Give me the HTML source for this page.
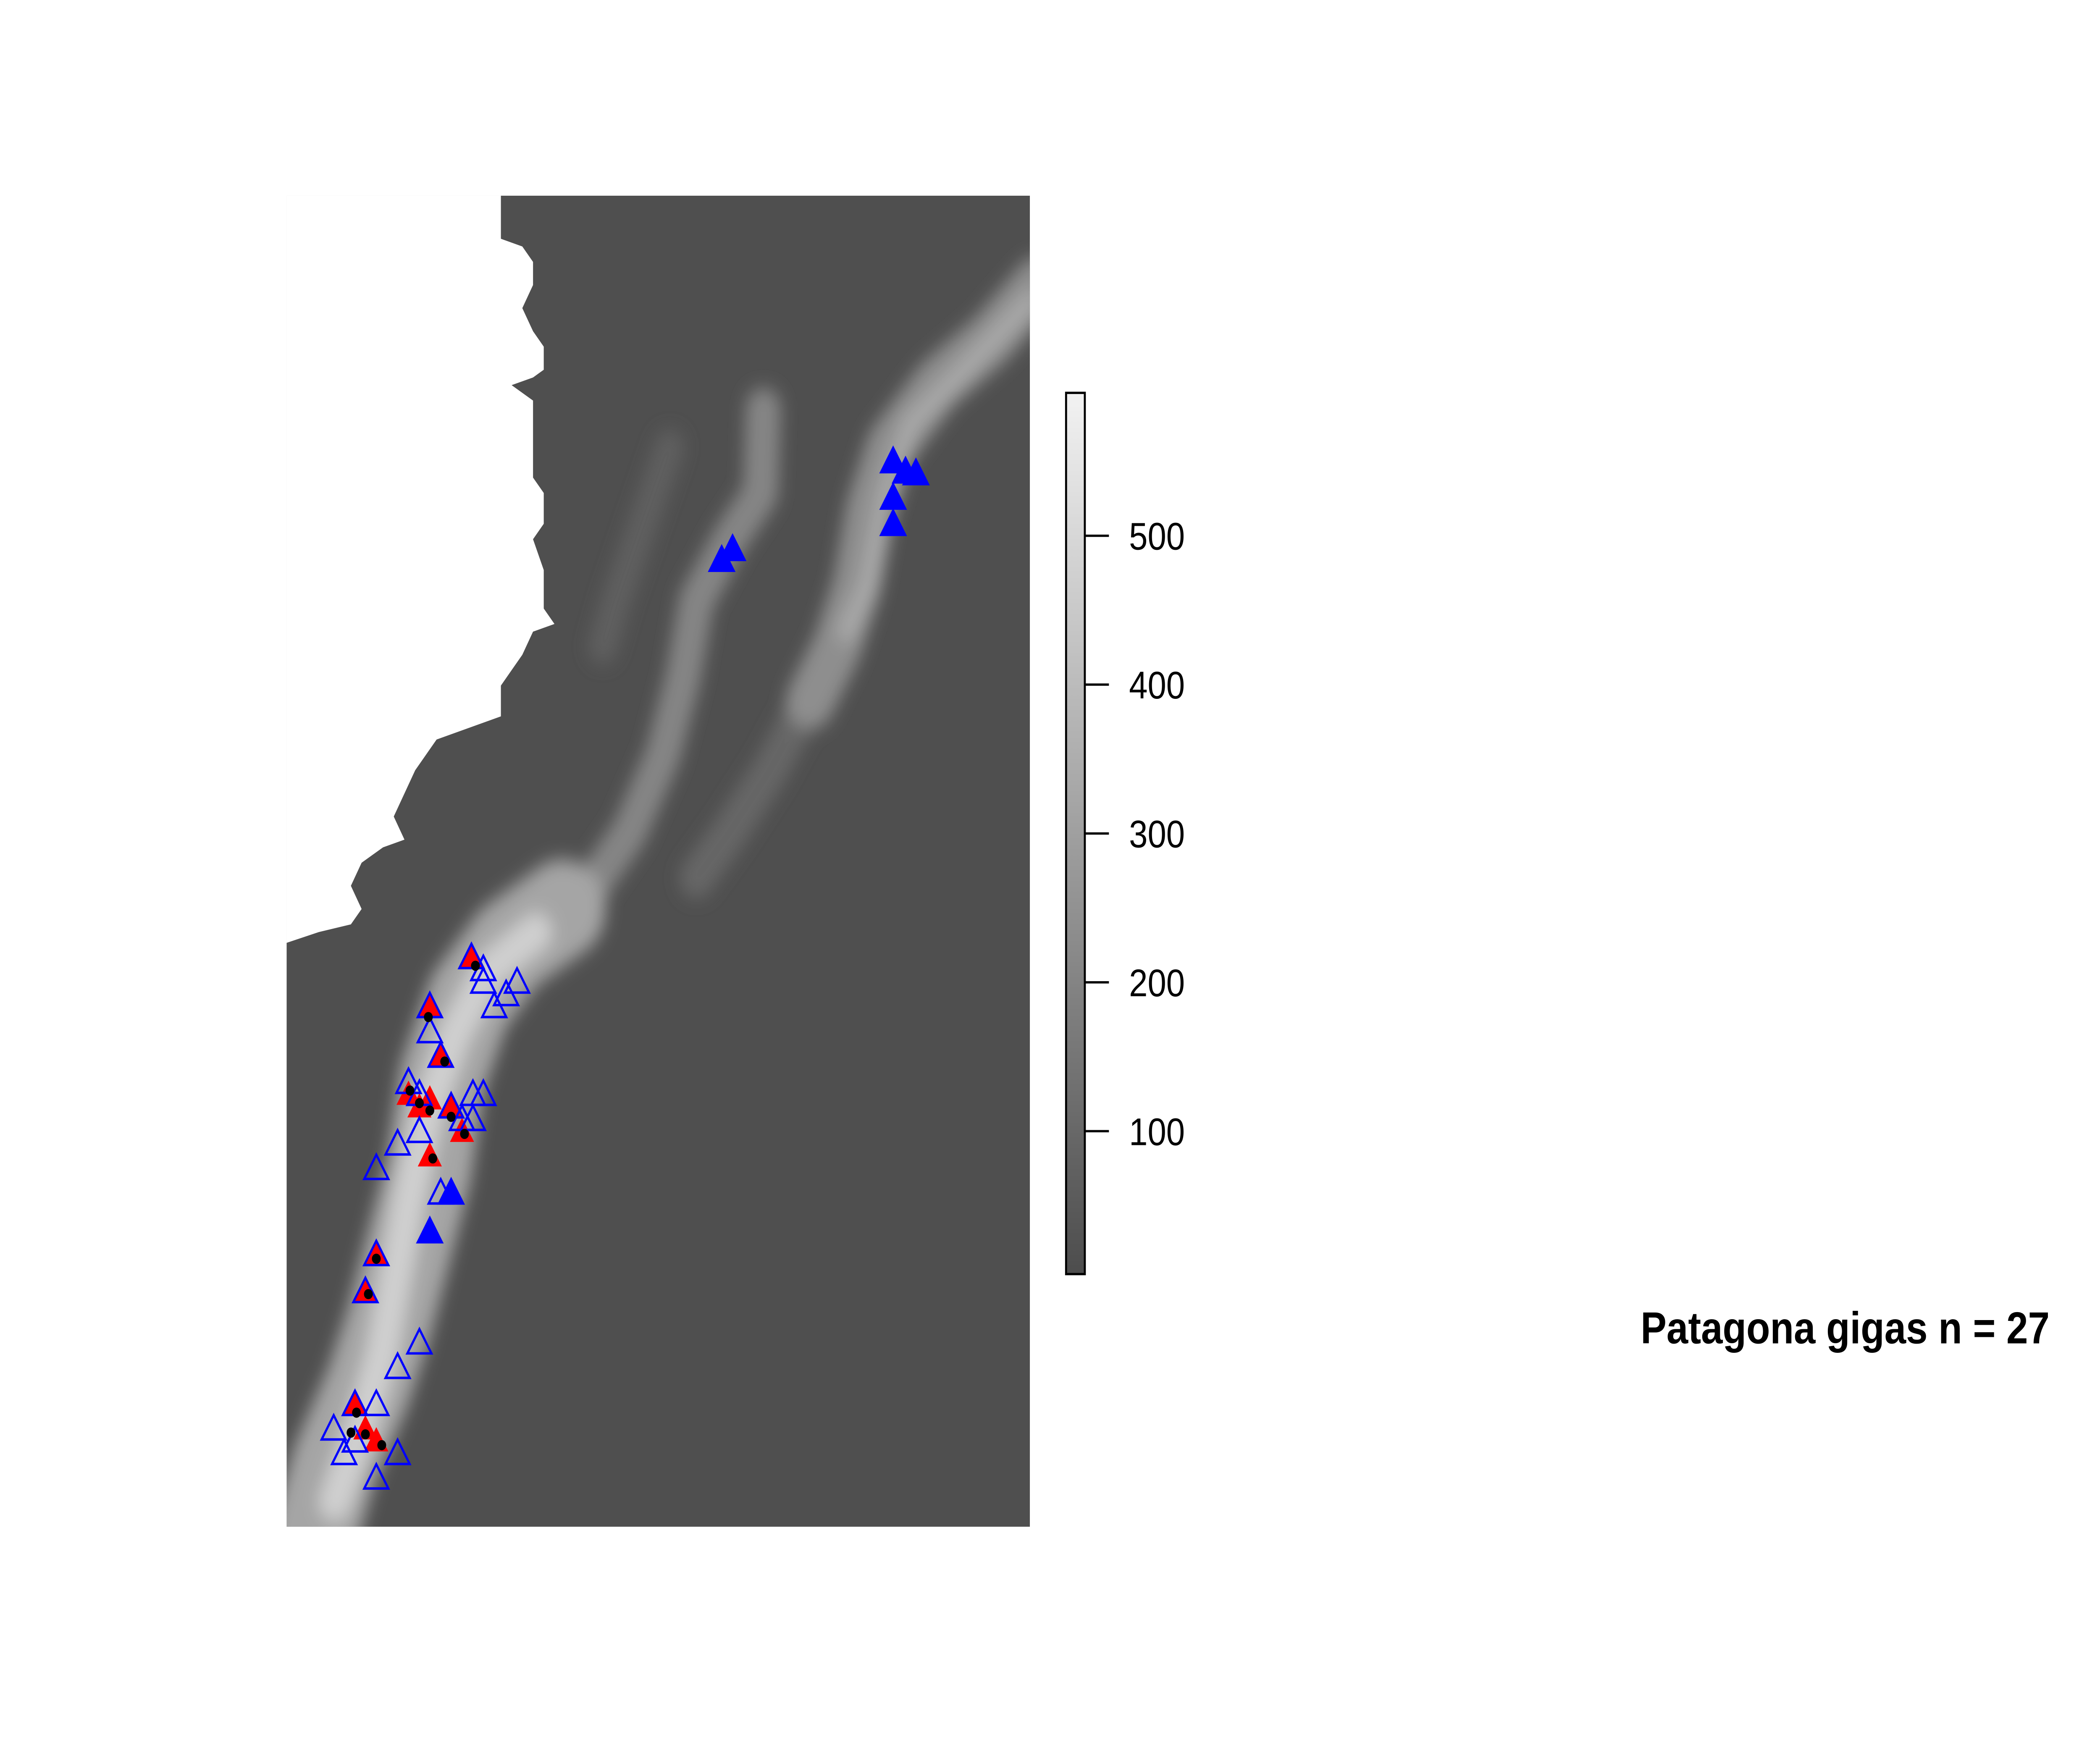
<!DOCTYPE html>
<html><head><meta charset="utf-8"><style>
html,body{margin:0;padding:0;background:#fff;width:100%;height:100%;overflow:hidden;}
svg{display:block;overflow:hidden;width:100vw;height:100vh;}
text{font-family:"Liberation Sans",Arial,sans-serif;}
</style></head><body>
<svg id="chart" viewBox="0 0 1568 1145" preserveAspectRatio="none" xmlns="http://www.w3.org/2000/svg">
<defs>
<filter id="blur" x="-20%" y="-20%" width="140%" height="140%"><feGaussianBlur stdDeviation="6"/></filter>
<linearGradient id="cbar" x1="0" y1="1" x2="0" y2="0">
<stop offset="0" stop-color="#4d4d4d"/><stop offset="1" stop-color="#f2f2f2"/></linearGradient>
<clipPath id="mapclip"><rect x="214" y="127" width="555" height="864"/></clipPath>
<clipPath id="pageclip"><rect x="0" y="0" width="1568" height="1145"/></clipPath>
</defs>
<g clip-path="url(#pageclip)">
<g clip-path="url(#mapclip)">
<rect x="214" y="127" width="555" height="864" fill="#4f4f4f"/>
<g filter="url(#blur)" fill="none" stroke-linecap="round" stroke-linejoin="round">
<polyline points="600,460 575,500 545,540 520,570" stroke="#666" stroke-width="26"/>
<polyline points="775,185 740,220 700,250 665,290 650,330 640,380 625,420 605,455" stroke="#8e8e8e" stroke-width="36"/>
<polyline points="770,195 720,240 680,275 662,320 648,380 632,410" stroke="#a8a8a8" stroke-width="14"/>
<polyline points="570,265 568,320 545,350 520,390 510,440 495,490 470,540 430,590" stroke="#858585" stroke-width="26"/>
<polyline points="500,290 480,340 460,390 450,420" stroke="#5e5e5e" stroke-width="22"/>
<polyline points="420,590 380,615 350,650 330,700 320,760 305,810 290,860 275,900 250,950 235,995" stroke="#a5a5a5" stroke-width="64"/>
<polyline points="400,605 365,630 340,670 320,720 305,780 295,830 285,880 268,930 250,975" stroke="#cfcfcf" stroke-width="24"/>
</g>
<polygon fill="#ffffff" points="214,120 374,120 374,155 390,160 398,170 398,185 390,200 398,215 406,225 406,240 398,245 382,250 398,260 398,310 406,320 406,340 398,350 406,370 406,395 414,405 398,410 390,425 382,435 374,445 374,465 358,470 342,475 326,480 318,490 310,500 302,515 294,530 302,545 286,550 270,560 262,575 270,590 262,600 238,605 214,612"/>
<rect x="334" y="452" width="7" height="15" fill="#fff"/>
</g>
<g id="marks"></g>
<g>
<rect x="796" y="255" width="14" height="572" fill="url(#cbar)" stroke="#000" stroke-width="1.5"/>
<g id="cticks"></g>
</g>
<text x="1225" y="872" font-size="29" font-weight="bold" fill="#000">Patagona gigas n = 27</text>
</g>
</svg>
<script>
const filledLon=[-68.76,-68.51,-68.30,-68.76,-68.76,-72.22,-72.00,-77.68,-78.11];
const filledLat=[7.32,7.14,7.11,6.68,6.22,5.59,5.78,-5.51,-6.19];
const openLon=[-77.27,-77.03,-77.03,-76.35,-76.57,-76.81,-78.11,-78.11,-77.89,-78.54,-78.32,-77.68,-77.24,-77.03,-77.46,-77.24,-78.32,-78.76,-79.19,-77.89,-79.19,-79.41,-78.32,-78.76,-79.62,-79.19,-80.05,-79.62,-79.84,-78.76,-79.19];
const openLat=[-1.38,-1.59,-1.81,-1.81,-2.03,-2.24,-2.24,-2.68,-3.11,-3.57,-3.78,-4.0,-3.78,-3.78,-4.22,-4.22,-4.43,-4.65,-5.08,-5.51,-6.59,-7.24,-8.14,-8.57,-9.22,-9.22,-9.65,-9.86,-10.08,-10.08,-10.51];
const redLon=[-77.27,-78.11,-77.89,-78.54,-78.32,-78.11,-77.68,-77.46,-78.11,-79.19,-79.41,-79.62,-79.41,-79.19];
const redLat=[-1.38,-2.24,-3.11,-3.78,-4.0,-3.86,-4.0,-4.43,-4.86,-6.59,-7.24,-9.22,-9.65,-9.86];
const dotLon=[-77.19,-78.14,-77.81,-78.51,-78.32,-78.11,-77.68,-77.41,-78.05,-79.19,-79.35,-79.59,-79.70,-79.41,-79.08];
const dotLat=[-1.51,-2.41,-3.19,-3.70,-3.92,-4.05,-4.16,-4.46,-4.89,-6.65,-7.27,-9.35,-9.70,-9.73,-9.92];
const legendTicks=[100,200,300,400,500];
const legendMin=4, legendMax=596;

const NS="http://www.w3.org/2000/svg";
const xS=lon=>214+(lon+81)*37;
const yS=lat=>127+(12-lat)*37;
const cY=v=>827-(v-legendMin)/(legendMax-legendMin)*572;
const g=document.getElementById('marks');
function tri(x,y,fill,stroke){
  const p=document.createElementNS(NS,'polygon');
  const s=9;
  p.setAttribute('points',`${x},${y-s*1.05} ${x-s},${y+s*0.7} ${x+s},${y+s*0.7}`);
  p.setAttribute('fill',fill);p.setAttribute('stroke',stroke);p.setAttribute('stroke-width','1.6');
  return p;
}
redLon.forEach((lo,i)=>{
  const c=tri(xS(lo),yS(redLat[i]),'#ff0000','none');
  
  
  g.appendChild(c);
});
openLon.forEach((lo,i)=>{
  const t=tri(xS(lo),yS(openLat[i]),'none','#0000ff');
  
  
  g.appendChild(t);
});
filledLon.forEach((lo,i)=>{
  const t=tri(xS(lo),yS(filledLat[i]),'#0000ff','#0000ff');
  
  
  g.appendChild(t);
});
dotLon.forEach((lo,i)=>{
  const c=document.createElementNS(NS,'circle');
  c.setAttribute('cx',xS(lo));c.setAttribute('cy',yS(dotLat[i]));c.setAttribute('r','3.3');c.setAttribute('fill','#000');
  
  
  g.appendChild(c);
});
const ct=document.getElementById('cticks');
legendTicks.forEach(v=>{
  const y=cY(v);
  const l=document.createElementNS(NS,'line');
  l.setAttribute('x1',810);l.setAttribute('x2',828);l.setAttribute('y1',y);l.setAttribute('y2',y);
  l.setAttribute('stroke','#000');l.setAttribute('stroke-width','1.5');
  
  
  ct.appendChild(l);
  const t=document.createElementNS(NS,'text');
  t.setAttribute('x',843);t.setAttribute('y',y+9);t.setAttribute('font-size','25');
  t.textContent=v;
  
  
  ct.appendChild(t);
});
</script>
</body></html>
